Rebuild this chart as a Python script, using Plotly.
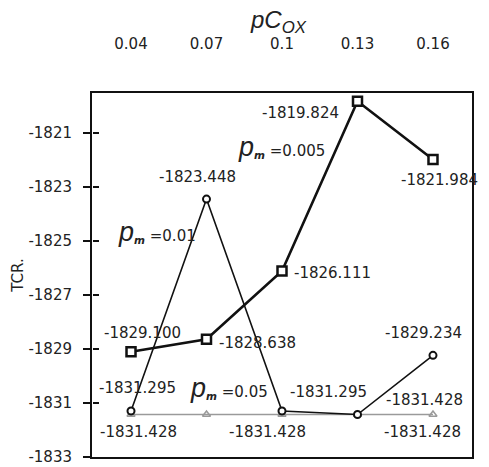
import plotly.graph_objects as go

# ---- data ----
pcox = [0.04, 0.07, 0.1, 0.13, 0.16]
pcox_labels = ["0.04", "0.07", "0.1", "0.13", "0.16"]
tcr_pm0005 = [-1829.100, -1828.638, -1826.111, -1819.824, -1821.984]
tcr_pm001 = [-1831.295, -1823.448, -1831.295, -1831.428, -1829.234]
tcr_pm005 = [-1831.428, -1831.428, -1831.428, -1831.428, -1831.428]
y_ticks = [-1833, -1831, -1829, -1827, -1825, -1823, -1821]

# ---- label placement (pixel offsets from point: dx right, dy up) ----
off_0005 = [(11, 19), (51, -4), (50, -2), (-57, -12), (7, -20)]
off_001 = [(6, 23), (-9, 22), (46, 19), (67, 15), (-9, 22)]
off_005 = {0: (7, -17), 2: (-15, -17), 4: (-10, -17)}

W, H = 489, 467
ML, MR, MT, MB = 92, 17, 52, 10
FRAME_TOP = 93
plot_h = H - MT - MB
ydom_top = (H - MB - FRAME_TOP) / plot_h

FONT = "DejaVu Sans"

def px2paper(px, py):
    return (px - ML) / (W - ML - MR), (H - MB - py) / plot_h

fig = go.Figure()

fig.add_trace(go.Scatter(
    x=pcox, y=tcr_pm005, mode="lines+markers",
    line=dict(color="#9a9a9a", width=1.5),
    marker=dict(symbol="triangle-up-open", size=7, color="#9a9a9a", line=dict(width=1.5)),
    showlegend=False, cliponaxis=False))
fig.add_trace(go.Scatter(
    x=pcox, y=tcr_pm001, mode="lines+markers",
    line=dict(color="#111", width=1.6),
    marker=dict(symbol="circle", size=7, color="white", line=dict(color="#111", width=2)),
    showlegend=False, cliponaxis=False))
fig.add_trace(go.Scatter(
    x=pcox, y=tcr_pm0005, mode="lines+markers",
    line=dict(color="#111", width=2.6),
    marker=dict(symbol="square", size=9, color="white", line=dict(color="#111", width=2.5)),
    showlegend=False, cliponaxis=False))
# empty trace to activate the overlay axes (top labels / inner ticks)
fig.add_trace(go.Scatter(x=[], y=[], xaxis="x2", yaxis="y2", showlegend=False))

ann = []
def val_label(x, y, dx, dy):
    ann.append(dict(x=x, y=y, xref="x", yref="y", text=f"{y:.3f}", showarrow=False,
                    xanchor="center", yanchor="middle",
                    xshift=dx, yshift=dy, font=dict(family=FONT, size=15, color="#222")))

for i, (x, y) in enumerate(zip(pcox, tcr_pm0005)):
    val_label(x, y, *off_0005[i])
for i, (x, y) in enumerate(zip(pcox, tcr_pm001)):
    val_label(x, y, *off_001[i])
for i, (dx, dy) in off_005.items():
    val_label(pcox[i], tcr_pm005[i], dx, dy)

def pm_label(text, px, py):
    xp, yp = px2paper(px, py)
    ann.append(dict(x=xp, y=yp, xref="paper", yref="paper", showarrow=False,
                    xanchor="center", yanchor="middle",
                    text=("<span style='font-family:Liberation Sans;font-size:27px'><i>p</i></span>"
                          "<sub><b><i>m</i></b></sub> " + text),
                    font=dict(family=FONT, size=15, color="#222")))

pm_label("=0.005", 281, 147)
pm_label("=0.01", 157, 232)
pm_label("=0.05", 229, 388)

# top axis title
tx, ty = px2paper(278, 22)
ann.append(dict(x=tx, y=ty, xref="paper", yref="paper", showarrow=False,
                xanchor="center", yanchor="middle",
                text="<i>pC</i><sub><i>OX</i></sub>",
                font=dict(family="Liberation Sans", size=24, color="#222")))

xr = [0.0245, 0.1755]
yr = [-1833, -1819.52]
y_ticktext = [str(v) for v in y_ticks]

fig.update_layout(
    width=W, height=H,
    margin=dict(l=ML, r=MR, t=MT, b=MB, autoexpand=False),
    paper_bgcolor="white", plot_bgcolor="white",
    font=dict(family=FONT, size=15, color="#222"),
    annotations=ann,
    xaxis=dict(range=xr, domain=[0, 1], anchor="y", showticklabels=False, ticks="",
               showline=True, mirror=True, linecolor="#111", linewidth=2,
               showgrid=False, zeroline=False, automargin=False),
    xaxis2=dict(range=xr, overlaying="x", anchor="free", position=1, side="top",
                tickmode="array", tickvals=pcox, ticktext=pcox_labels, ticks="",
                showline=False, showgrid=False, zeroline=False, automargin=False,
                tickfont=dict(family=FONT, size=15, color="#222")),
    yaxis=dict(range=yr, domain=[0, ydom_top], anchor="x", tickmode="array",
               tickvals=y_ticks, ticktext=y_ticktext,
               ticks="outside", ticklen=7, tickwidth=1.5, tickcolor="#111",
               ticklabelstandoff=8, automargin=False,
               showline=True, mirror=True, linecolor="#111", linewidth=2,
               showgrid=False, zeroline=False,
               title=dict(text="TCR.", standoff=1, font=dict(family=FONT, size=15, color="#222")),
               tickfont=dict(family=FONT, size=15, color="#222")),
    yaxis2=dict(range=yr, domain=[0, ydom_top], overlaying="y", anchor="free", position=0,
                side="left", tickmode="array", tickvals=y_ticks, ticks="inside", ticklen=6,
                tickwidth=1.5, tickcolor="#111", showticklabels=False, automargin=False,
                showline=False, showgrid=False, zeroline=False),
)

fig.write_html("out.html")
